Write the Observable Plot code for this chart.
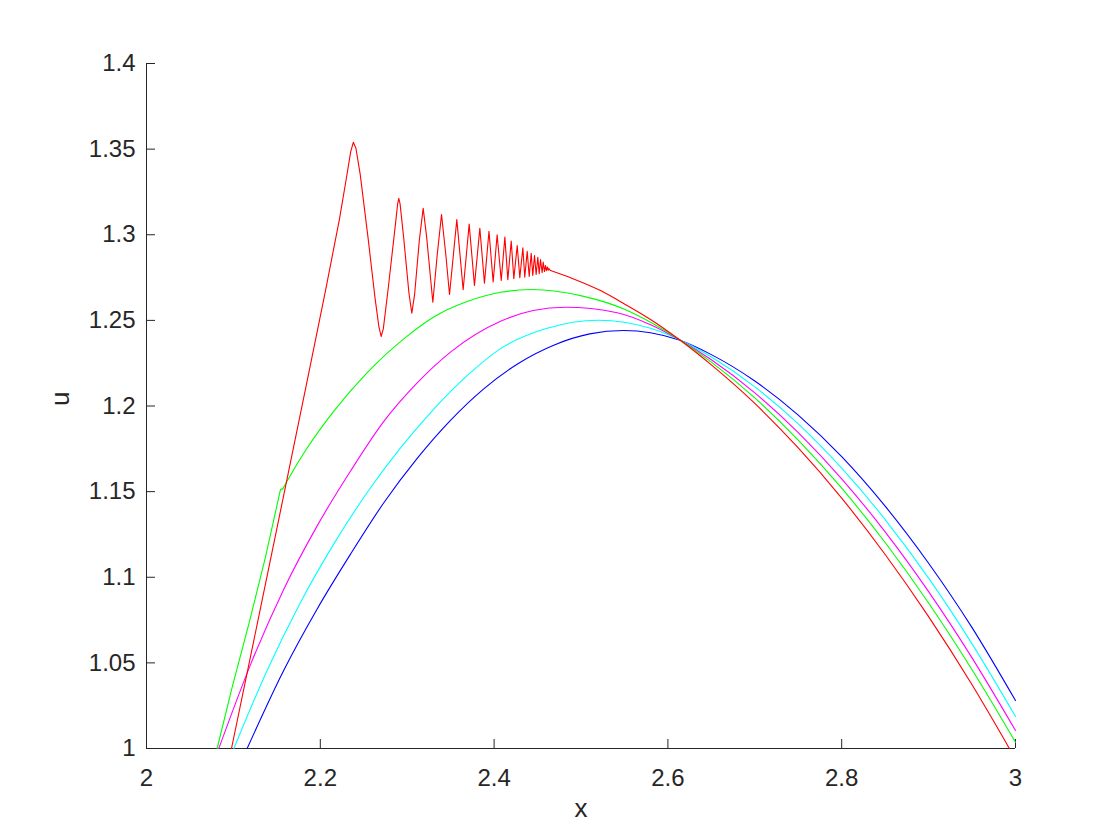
<!DOCTYPE html>
<html>
<head>
<meta charset="utf-8">
<script src="https://cdn.jsdelivr.net/npm/d3@7"></script>
<script src="https://cdn.jsdelivr.net/npm/@observablehq/plot@0.6"></script>
<style>
  body { margin: 0; background: #fff; }
  svg { display: block; }
</style>
</head>
<body>
<div id="chart"></div>
<script>
// ---- data ----
const xTicks = [2, 2.2, 2.4, 2.6, 2.8, 3];
const yTicks = [1, 1.05, 1.1, 1.15, 1.2, 1.25, 1.3, 1.35, 1.4];
const xLabel = "x";
const yLabel = "u";

const blue = [[2.1158,1.0],[2.158,1.0457],[2.1964,1.0815],[2.2348,1.1135],[2.2731,1.1435],[2.3115,1.1694],[2.3498,1.1916],[2.3881,1.2100],[2.4274,1.2247],[2.47,1.2358],[2.51,1.2421],[2.549,1.2441],[2.58,1.2428],[2.613,1.2385],[2.65,1.2300],[2.7,1.2146],[2.75,1.1947],[2.8,1.1704],[2.85,1.1415],[2.9,1.1082],[2.95,1.0706],[3.0,1.028]];

const cyan = [[2.1005,1.0],[2.1389,1.0457],[2.1772,1.0853],[2.2156,1.1195],[2.254,1.1495],[2.2923,1.1755],[2.3306,1.1982],[2.369,1.2177],[2.4074,1.2335],[2.46,1.2452],[2.52,1.2501],[2.58,1.2454],[2.613,1.2388],[2.65,1.2286],[2.7,1.2112],[2.75,1.1896],[2.8,1.1637],[2.85,1.1337],[2.9,1.0995],[2.95,1.0611],[3.0,1.0187]];

const magenta = [[2.0832,1.0],[2.1197,1.049],[2.158,1.093],[2.1964,1.130],[2.2348,1.162],[2.2731,1.191],[2.3115,1.2135],[2.3498,1.2315],[2.4074,1.2495],[2.445,1.2558],[2.482,1.2577],[2.5416,1.2545],[2.58,1.2475],[2.613,1.2388],[2.65,1.2270],[2.7,1.2077],[2.75,1.1845],[2.8,1.1575],[2.85,1.1265],[2.9,1.0916],[2.95,1.0529],[3.0,1.0105]];

// green: steep straight start up to a small hook, then the smooth arc
const greenStart = [[2.0813,1.0],[2.0986,1.0359],[2.1178,1.0728],[2.1369,1.1117],[2.1542,1.1513],[2.1568,1.1516]];
const greenArc = [[2.1568,1.1516],[2.165,1.1590],[2.183,1.174],[2.2156,1.197],[2.254,1.2195],[2.3,1.2408],[2.3306,1.252],[2.369,1.261],[2.4074,1.2664],[2.443,1.268],[2.5032,1.2640],[2.55,1.2565],[2.58,1.2489],[2.613,1.2388],[2.65,1.2256],[2.7,1.2047],[2.75,1.1801],[2.8,1.1520],[2.85,1.1203],[2.9,1.0850],[2.95,1.0460],[3.0,1.0037]];

// red: rise, oscillating shock train, then the smooth descent
const redWave = [[2.0978,1.0],[2.13,1.079],[2.162,1.158],[2.185,1.215],[2.206,1.2674],[2.222,1.309],[2.230,1.333],[2.235,1.3485],[2.238,1.354],[2.241,1.3505],[2.246,1.335],[2.255,1.298],[2.263,1.263],[2.2675,1.246],[2.270,1.2406],[2.2725,1.245],[2.278,1.268],[2.286,1.304],[2.289,1.318],[2.2903,1.3213],[2.2918,1.318],[2.296,1.298],[2.302,1.266],[2.3053,1.2542],[2.3085,1.265],[2.314,1.297],[2.3184,1.3155],[2.3225,1.298],[2.3295,1.2606],[2.3345,1.288],[2.3395,1.3118],[2.3445,1.288],[2.3487,1.2651],[2.3571,1.3089],[2.3644,1.2679],[2.3713,1.3062],[2.3774,1.2704],[2.3836,1.3038],[2.3889,1.2717],[2.3941,1.302],[2.3989,1.2725],[2.4035,1.3],[2.4082,1.2733],[2.4124,1.2986],[2.4158,1.2737],[2.4197,1.2963],[2.4227,1.2743],[2.4266,1.2937],[2.4296,1.2749],[2.4331,1.2924],[2.4353,1.2752],[2.4381,1.2904],[2.4404,1.2756],[2.4427,1.2892],[2.4445,1.2762],[2.4465,1.2879],[2.4484,1.2768],[2.4503,1.2869],[2.4519,1.2772],[2.4534,1.2855],[2.4553,1.2778],[2.4565,1.284],[2.458,1.2785],[2.4591,1.282],[2.4603,1.279],[2.4613,1.2812],[2.4622,1.2793],[2.4630,1.2802],[2.4649,1.2791]];
const redTail = [[2.4649,1.2791],[2.49,1.2745],[2.5224,1.2674],[2.55,1.2596],[2.58,1.2505],[2.613,1.2388],[2.65,1.2240],[2.7,1.2015],[2.75,1.1755],[2.8,1.1462],[2.85,1.1133],[2.9,1.0770],[2.95,1.0372],[2.993,1.0]];

// drawing order: blue first, red last (on top)
const pieces = [
  {pts: blue, color: "#0000ff", curve: "monotone-x"},
  {pts: cyan, color: "#00ffff", curve: "monotone-x"},
  {pts: magenta, color: "#ff00ff", curve: "monotone-x"},
  {pts: greenStart, color: "#00ff00", curve: "linear"},
  {pts: greenArc, color: "#00ff00", curve: "monotone-x"},
  {pts: redWave, color: "#ff0000", curve: "linear"},
  {pts: redTail, color: "#ff0000", curve: "monotone-x"}
];

// ---- chart ----
const axisColor = "#262626";
const fmt = d => String(+d.toFixed(2));

const lineMarks = pieces.map(p =>
  Plot.line(p.pts.map(([x, y]) => ({x, y})), {
    x: "x", y: "y",
    stroke: p.color,
    strokeWidth: 1.1,
    curve: p.curve
  })
);

const chart = Plot.plot({
  width: 1120,
  height: 840,
  marginLeft: 146,
  marginRight: 105,
  marginTop: 63,
  marginBottom: 92,
  x: {domain: [2, 3]},
  y: {domain: [1, 1.4]},
  style: {
    fontFamily: "'Liberation Sans', Arial, Helvetica, sans-serif",
    fontSize: "24px",
    color: axisColor,
    background: "#ffffff"
  },
  marks: [
    Plot.ruleX([2], {stroke: axisColor, strokeWidth: 1}),
    Plot.ruleY([1], {stroke: axisColor, strokeWidth: 1}),
    Plot.axisX({ticks: xTicks, tickSize: -9, tickFormat: () => "", stroke: axisColor, label: null}),
    Plot.axisX({ticks: xTicks, tickSize: 0, tickPadding: 20, tickFormat: fmt, fill: axisColor, label: null}),
    Plot.axisY({ticks: yTicks, tickSize: -9, tickFormat: () => "", stroke: axisColor, label: null}),
    Plot.axisY({ticks: yTicks, tickSize: 0, tickPadding: 11, tickFormat: fmt, fill: axisColor, label: null}),
    ...lineMarks,
    Plot.text([xLabel], {text: d => d, frameAnchor: "bottom", dy: 68, fontSize: 26, fill: axisColor}),
    Plot.text([yLabel], {text: d => d, frameAnchor: "left", dx: -86, rotate: -90, fontSize: 26, fill: axisColor})
  ]
});

document.getElementById("chart").appendChild(chart);
</script>
</body>
</html>
